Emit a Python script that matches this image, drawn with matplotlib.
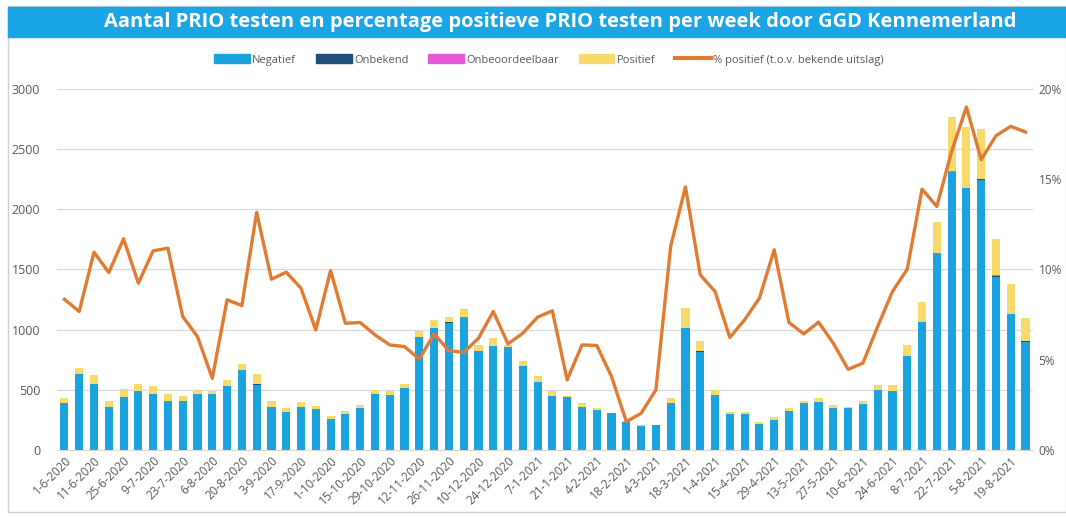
import matplotlib
matplotlib.use("Agg")
import matplotlib.pyplot as plt
from matplotlib.patches import Patch, Rectangle
from matplotlib.lines import Line2D
from matplotlib.ticker import FuncFormatter

# weekly counts
negatief = [394, 630, 550, 361, 444, 494, 467, 411, 411, 467,
            464, 528, 661, 542, 361, 319, 356, 342, 256, 297,
            347, 464, 458, 514, 936, 1014, 1056, 1103, 820, 867,
            856, 694, 569, 450, 439, 361, 333, 306, 236, 203,
            208, 389, 1014, 811, 458, 297, 297, 214, 250, 325,
            389, 397, 353, 347, 383, 500, 494, 783, 1061, 1639,
            2306, 2181, 2242, 1436, 1133, 897]
onbekend = [0, 0, 0, 0, 0, 0, 0, 0, 0, 0,
            0, 0, 0, 8, 0, 0, 0, 0, 0, 0,
            0, 0, 0, 0, 0, 0, 8, 0, 0, 0,
            0, 5, 0, 0, 0, 0, 0, 0, 0, 0,
            0, 0, 0, 8, 0, 0, 0, 0, 0, 0,
            0, 0, 0, 0, 0, 0, 0, 0, 0, 0,
            6, 0, 10, 6, 0, 12]
onbeoordeelbaar = [0, 0, 0, 0, 0, 0, 0, 0, 0, 0,
                   0, 0, 0, 0, 0, 0, 0, 0, 0, 0,
                   0, 0, 0, 0, 0, 0, 0, 0, 0, 0,
                   0, 0, 0, 0, 0, 0, 0, 0, 0, 0,
                   0, 0, 0, 0, 0, 0, 0, 0, 0, 0,
                   0, 0, 0, 0, 0, 0, 0, 0, 0, 0,
                   8, 0, 0, 10, 0, 0]
positief = [36, 50, 75, 47, 61, 53, 61, 56, 39, 33,
            22, 55, 56, 78, 42, 34, 41, 27, 27, 28,
            28, 36, 36, 36, 50, 69, 42, 69, 55, 64,
            14, 43, 48, 44, 11, 28, 17, 5, 8, 5,
            2, 47, 167, 84, 42, 17, 20, 17, 28, 22,
            22, 34, 22, 9, 20, 42, 48, 87, 170, 258,
            450, 500, 415, 304, 250, 185]
pct_positief = [8.35, 7.67, 10.96, 9.83, 11.70, 9.24, 11.03, 11.18, 7.39, 6.28,
                3.97, 8.32, 8.00, 13.16, 9.46, 9.85, 8.96, 6.65, 9.94, 7.02,
                7.06, 6.38, 5.82, 5.73, 5.03, 6.43, 5.51, 5.40, 6.19, 7.67,
                5.88, 6.47, 7.36, 7.71, 3.88, 5.82, 5.79, 4.07, 1.57, 2.03,
                3.33, 11.28, 14.57, 9.70, 8.78, 6.23, 7.21, 8.41, 11.09, 7.06,
                6.43, 7.08, 5.91, 4.47, 4.81, 6.84, 8.78, 10.02, 14.45, 13.49,
                16.54, 19.00, 16.08, 17.41, 17.93, 17.61]
week_labels = ["1-6-2020", "11-6-2020", "25-6-2020", "9-7-2020", "23-7-2020",
               "6-8-2020", "20-8-2020", "3-9-2020", "17-9-2020", "1-10-2020",
               "15-10-2020", "29-10-2020", "12-11-2020", "26-11-2020", "10-12-2020",
               "24-12-2020", "7-1-2021", "21-1-2021", "4-2-2021", "18-2-2021",
               "4-3-2021", "18-3-2021", "1-4-2021", "15-4-2021", "29-4-2021",
               "13-5-2021", "27-5-2021", "10-6-2021", "24-6-2021", "8-7-2021",
               "22-7-2021", "5-8-2021", "19-8-2021"]

c_neg = "#1BA3E0"
c_onb = "#1F4E79"
c_onbeo = "#E65CD8"
c_pos = "#F8D96B"
c_line = "#E07B32"
grey = "#595959"

plt.rcParams["font.family"] = ["Open Sans", "DejaVu Sans"]

fig = plt.figure(figsize=(10.66, 5.18), dpi=100)
ax = fig.add_axes([0.0535, 0.1313, 0.9155, 0.697])

x = list(range(len(negatief)))
w = 0.55
b1 = [n + o for n, o in zip(negatief, onbekend)]
b2 = [b + o for b, o in zip(b1, onbeoordeelbaar)]
ax.bar(x, negatief, w, color=c_neg, zorder=2)
ax.bar(x, onbekend, w, bottom=negatief, color=c_onb, zorder=2)
ax.bar(x, onbeoordeelbaar, w, bottom=b1, color=c_onbeo, zorder=2)
ax.bar(x, positief, w, bottom=b2, color=c_pos, zorder=2)

ax.set_xlim(-0.5, len(x) - 0.5)
ax.set_ylim(0, 3000)
ax.set_yticks(range(0, 3001, 500))
ax.grid(axis="y", color="#D9D9D9", linewidth=0.9, zorder=0)
ax.set_xticks(x[::2])
ax.set_xticklabels(week_labels, rotation=45, ha="right", rotation_mode="anchor",
                   fontsize=8.5, color=grey)
ax.tick_params(axis="y", labelsize=9, colors=grey, length=0, pad=12)
ax.tick_params(axis="x", length=0, pad=3)
for s in ax.spines.values():
    s.set_visible(False)
ax.spines["bottom"].set_visible(True)
ax.spines["bottom"].set_color("#D9D9D9")

ax2 = ax.twinx()
ax2.plot(x, pct_positief, color=c_line, linewidth=2.4, zorder=3)
ax2.set_ylim(0, 20)
ax2.set_yticks([0, 5, 10, 15, 20])
ax2.yaxis.set_major_formatter(FuncFormatter(lambda v, p: f"{v:.0f}%"))
ax2.tick_params(axis="y", labelsize=8.5, colors=grey, length=0, pad=4)
for s in ax2.spines.values():
    s.set_visible(False)

# title band + chart border
fig.patches.append(Rectangle((8 / 1066, 6 / 518), 1 - 8 / 1066, 1 - 12 / 518,
                             transform=fig.transFigure, fill=False,
                             edgecolor="#D0D0D0", linewidth=1))
fig.patches.append(Rectangle((8 / 1066, 1 - 37 / 518), 1 - 8 / 1066, 30 / 518,
                             transform=fig.transFigure, color="#1AA5E6"))
fig.text(560 / 1066, 1 - 22 / 518,
         "Aantal PRIO testen en percentage positieve PRIO testen per week door GGD Kennemerland",
         ha="center", va="center", color="white", fontsize=14.5, fontweight="bold")

handles = [Patch(color=c_neg, label="Negatief"),
           Patch(color=c_onb, label="Onbekend"),
           Patch(color=c_onbeo, label="Onbeoordeelbaar"),
           Patch(color=c_pos, label="Positief"),
           Line2D([], [], color=c_line, linewidth=3, label="% positief (t.o.v. bekende uitslag)")]
leg = fig.legend(handles=handles, loc="center", bbox_to_anchor=(0.515, 1 - 60 / 518),
                 ncol=5, frameon=False, fontsize=8, handlelength=3.2, handleheight=0.8,
                 columnspacing=1.8, handletextpad=0.2)
for t in leg.get_texts():
    t.set_color(grey)

fig.savefig("out.png", dpi=100)
